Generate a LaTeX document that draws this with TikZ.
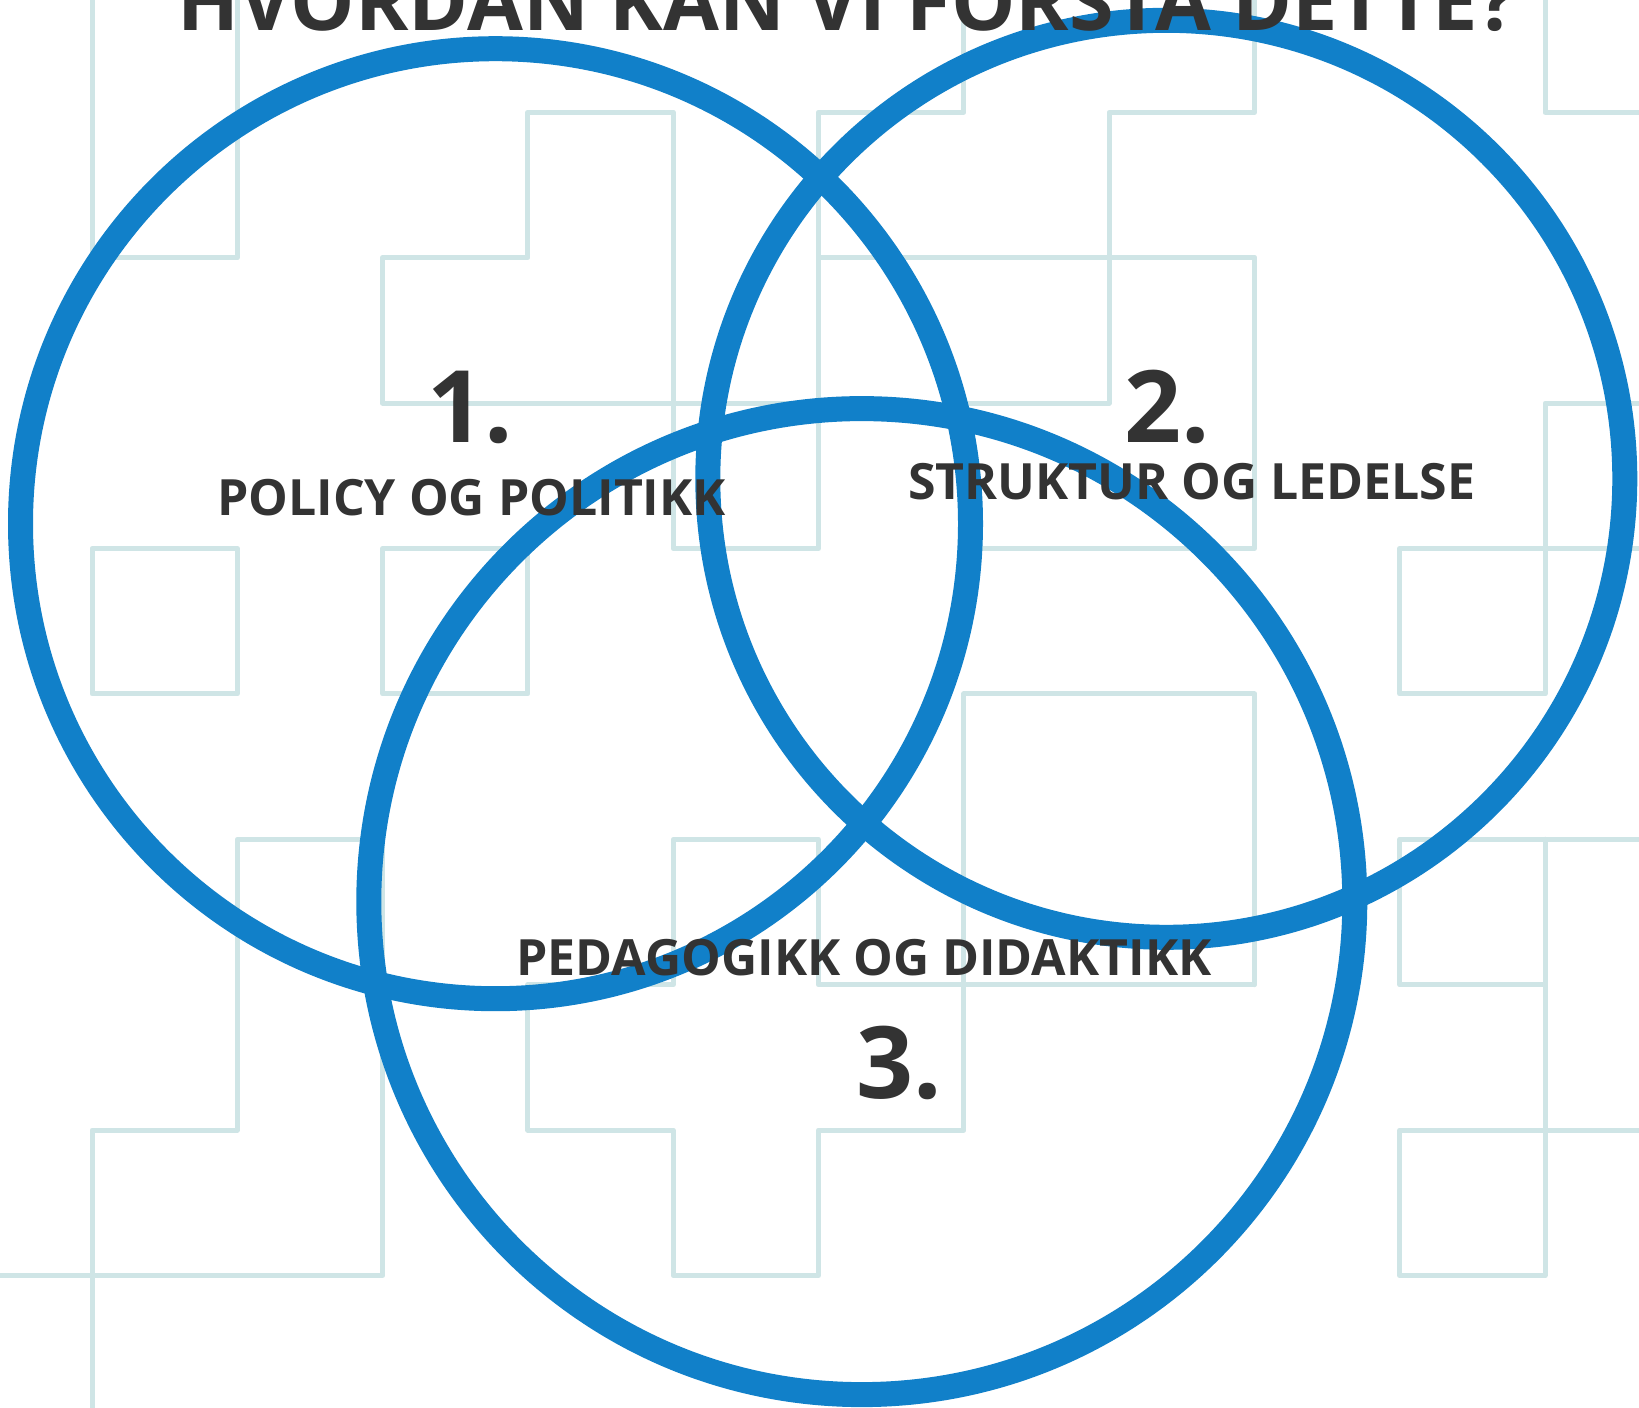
\documentclass[tikz,border=0pt]{standalone}
\usepackage{fontspec}
\setmainfont{Open Sans}
\definecolor{ringblue}{HTML}{1180C9}
\definecolor{gridteal}{HTML}{CFE5E6}
\definecolor{inkgrey}{HTML}{333333}

\begin{document}
\begin{tikzpicture}[x=1pt,y=-1pt,
    grid line/.style={draw=gridteal,line width=5pt,line cap=round,line join=round},
    ring/.style={circle,draw=ringblue,line width=25pt,inner sep=0pt},
    topic/.style={font=\bfseries\fontsize{50}{56}\selectfont,text=inkgrey,anchor=base,inner sep=0pt},
    number/.style={font=\bfseries\fontsize{100}{110}\selectfont,text=inkgrey,anchor=base,inner sep=0pt},
    heading/.style={font=\bfseries\fontsize{81}{90}\selectfont,text=inkgrey,anchor=base,inner sep=0pt}]
    \useasboundingbox (0,0) rectangle (1639,1408);
    \clip (0,0) rectangle (1639,1408);
    \fill[white] (0,0) rectangle (1639,1408);

    % background squares
    \begin{scope}[shift={(92pt,-112.3pt)},x=145.3pt,y=-145.4pt]
        \draw[grid line] (0,-1) -- (0,1) -- (1,1) -- (1,-1);
        \draw[grid line] (5,2) -- (2,2) -- (2,1) -- (3,1) -- (3,0) -- (4,0) -- (4,3) -- (5,3) -- (5,0) -- (6,0) -- (6,-1);
        \draw[grid line] (5,1) -- (8,1);
        \draw[grid line] (7,2) -- (7,0) -- (8,0) -- (8,-1);
        \draw[grid line] (7,2) -- (6,2) -- (6,3) -- (8,3) -- (8,1);
        \draw[grid line] (10,-1) -- (10,0) -- (11,0);
        \draw[grid line] (11,2) -- (10,2) -- (10,4) -- (9,4) -- (9,3) -- (11,3);
        \draw[grid line] (0,3) rectangle (1,4) (2,3) rectangle (3,4);
        \draw[grid line] (8,6) -- (5,6) -- (5,5) -- (4,5) -- (4,6) -- (3,6) -- (3,7) -- (4,7) -- (4,8) -- (5,8) -- (5,7) -- (6,7) -- (6,4) -- (8,4) -- (8,6);
        \draw[grid line] (0,9) -- (0,7) -- (1,7) -- (1,5) -- (2,5) -- (2,8) -- (-1,8);
        \draw[grid line] (11,5) -- (9,5) -- (9,6) -- (10,6);
        \draw[grid line] (10,5) -- (10,8) -- (9,8) -- (9,7) -- (11,7);
    \end{scope}

    % the three rings
    \node[ring,minimum size=950pt] (ring1) at (495.5,523.7) {};
    \node[ring,minimum size=917pt] (ring2) at (1166.3,478.8) {};
    \node[ring,minimum size=986pt] (ring3) at (861.8,901.6) {};

    \node[heading] (title) at (847,30.5) {HVORDAN KAN VI FORSTÅ DETTE?};

    \node[number] (num1) at (470.5,442) {1.};
    \node[topic] (policy) at (471.5,515.5) {POLICY OG POLITIKK};
    \node[number] (num2) at (1167.3,442) {2.};
    \node[topic] (struktur) at (1191.8,499) {STRUKTUR OG LEDELSE};
    \node[topic] (pedagogikk) at (864,975) {PEDAGOGIKK OG DIDAKTIKK};
    \node[number] (num3) at (899.5,1098) {3.};
\end{tikzpicture}
\end{document}
